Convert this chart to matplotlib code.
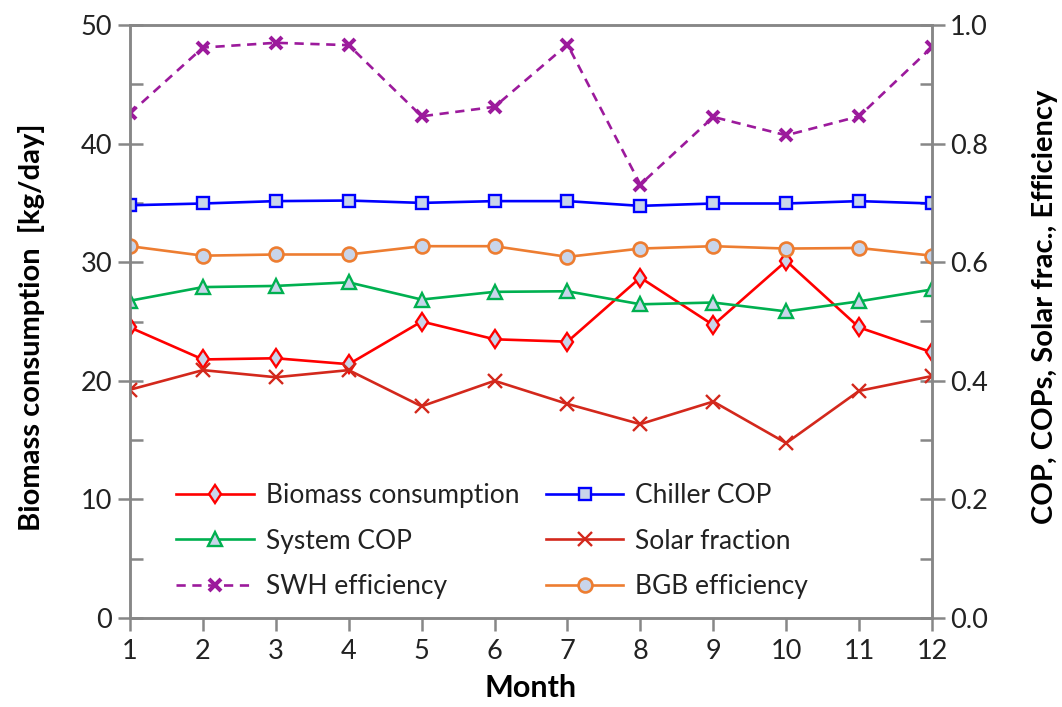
import matplotlib
matplotlib.use("Agg")
import matplotlib.pyplot as plt
from matplotlib.ticker import MultipleLocator

plt.rcParams['font.family'] = ['Lato', 'DejaVu Sans']

months = [1, 2, 3, 4, 5, 6, 7, 8, 9, 10, 11, 12]

# Left axis: biomass consumption [kg/day]
biomass = [24.5, 21.8, 21.9, 21.4, 25.0, 23.5, 23.3, 28.7, 24.7, 30.1, 24.5, 22.4]

# Right axis: COPs, solar fraction, efficiencies
chiller_cop = [0.696, 0.699, 0.703, 0.704, 0.700, 0.703, 0.703, 0.695, 0.699, 0.699, 0.703, 0.699]
system_cop = [0.535, 0.558, 0.560, 0.566, 0.537, 0.550, 0.551, 0.529, 0.532, 0.517, 0.534, 0.554]
solar_fraction = [0.385, 0.418, 0.406, 0.418, 0.357, 0.400, 0.361, 0.327, 0.365, 0.295, 0.383, 0.408]
swh_eff = [0.851, 0.962, 0.970, 0.966, 0.846, 0.862, 0.967, 0.731, 0.845, 0.814, 0.846, 0.963]
bgb_eff = [0.627, 0.611, 0.613, 0.613, 0.627, 0.627, 0.609, 0.623, 0.627, 0.623, 0.624, 0.611]

left_ticks = [0, 10, 20, 30, 40, 50]
right_ticks = [0.0, 0.2, 0.4, 0.6, 0.8, 1.0]
right_ticklabels = ["0.0", "0.2", "0.4", "0.6", "0.8", "1.0"]

W, H = 1062, 707
fig = plt.figure(figsize=(W / 100, H / 100), dpi=100)
ax = fig.add_axes([130 / W, 1 - 618 / H, (932 - 130) / W, (618 - 25) / H])
ax2 = ax.twinx()

fill = '#c9d5ea'
lw = 1.9

h_bio, = ax.plot(months, biomass, color='#ff0000', lw=lw, marker='d', ms=9.5,
                 mfc=fill, mec='#ff0000', mew=1.7, label='Biomass consumption')
h_chl, = ax2.plot(months, chiller_cop, color='#0000ff', lw=lw, marker='s', ms=9,
                  mfc=fill, mec='#0000ff', mew=1.7, label='Chiller COP')
h_sys, = ax2.plot(months, system_cop, color='#00b050', lw=lw, marker='^', ms=9.5,
                  mfc=fill, mec='#00b050', mew=1.7, label='System COP')
h_sol, = ax2.plot(months, solar_fraction, color='#d3281c', lw=lw, marker='x', ms=9.5,
                  mec='#d3281c', mew=1.7, label='Solar fraction')
h_swh, = ax2.plot(months, swh_eff, color='#9c1a9c', lw=lw, ls=(0, (3.5, 2.5)), marker='x',
                  ms=8.5, mec='#9c1a9c', mew=2.9, label='SWH efficiency')
h_bgb, = ax2.plot(months, bgb_eff, color='#ed7d31', lw=lw, marker='o', ms=10,
                  mfc=fill, mec='#ed7d31', mew=1.9, label='BGB efficiency')

spine_c = '#878787'
for a in (ax, ax2):
    for s in a.spines.values():
        s.set_color(spine_c)
        s.set_linewidth(1.8)

ax.set_xlim(1, 12)
ax.set_ylim(0, 50)
ax2.set_ylim(0, 1.0)

ax.set_xticks(months)
ax.set_yticks(left_ticks)
ax.yaxis.set_minor_locator(MultipleLocator(5))
ax2.set_yticks(right_ticks)
ax2.set_yticklabels(right_ticklabels)
ax2.yaxis.set_minor_locator(MultipleLocator(0.1))

tick_fs = 19.5
ax.tick_params(axis='y', which='major', direction='inout', length=18, width=1.8,
               color=spine_c, labelsize=tick_fs, pad=4, labelcolor='#222222')
ax.tick_params(axis='y', which='minor', direction='in', length=9, width=1.8, color=spine_c)
ax.tick_params(axis='x', which='major', direction='out', length=9, width=1.8,
               color=spine_c, labelsize=tick_fs, pad=6, labelcolor='#222222')
ax2.tick_params(axis='y', which='major', direction='inout', length=18, width=1.8,
                color=spine_c, labelsize=tick_fs, pad=4, labelcolor='#222222')
ax2.tick_params(axis='y', which='minor', direction='in', length=9, width=1.8, color=spine_c)

ax.set_xlabel('Month', fontsize=22, fontweight='bold')
ax.set_ylabel('Biomass consumption  [kg/day]', fontsize=21, fontweight='bold')
ax2.set_ylabel('COP, COPs, Solar frac., Efficiency', fontsize=21, fontweight='bold',
               rotation=90)
# label anchors: x label top edge, left label right edge, right label left edge
ax.xaxis.set_label_coords(0.5, (618 - 674) / 593)
ax.yaxis.set_label_coords((45 - 130) / 802, 0.49)
ax2.yaxis.set_label_coords((1032 - 130) / 802, 0.525)

handles = [h_bio, h_sys, h_swh, h_chl, h_sol, h_bgb]
leg = ax2.legend(handles=handles, labels=[h.get_label() for h in handles], ncol=2,
                 loc='upper left', bbox_to_anchor=(176 / W, 1 - 483 / H),
                 bbox_transform=fig.transFigure, frameon=False, fontsize=19,
                 handlelength=2.95, handletextpad=0.45, columnspacing=1.0,
                 labelspacing=0.78, borderpad=0, borderaxespad=0)
for t in leg.get_texts():
    t.set_color('#222222')

fig.savefig('out.png', dpi=100)
